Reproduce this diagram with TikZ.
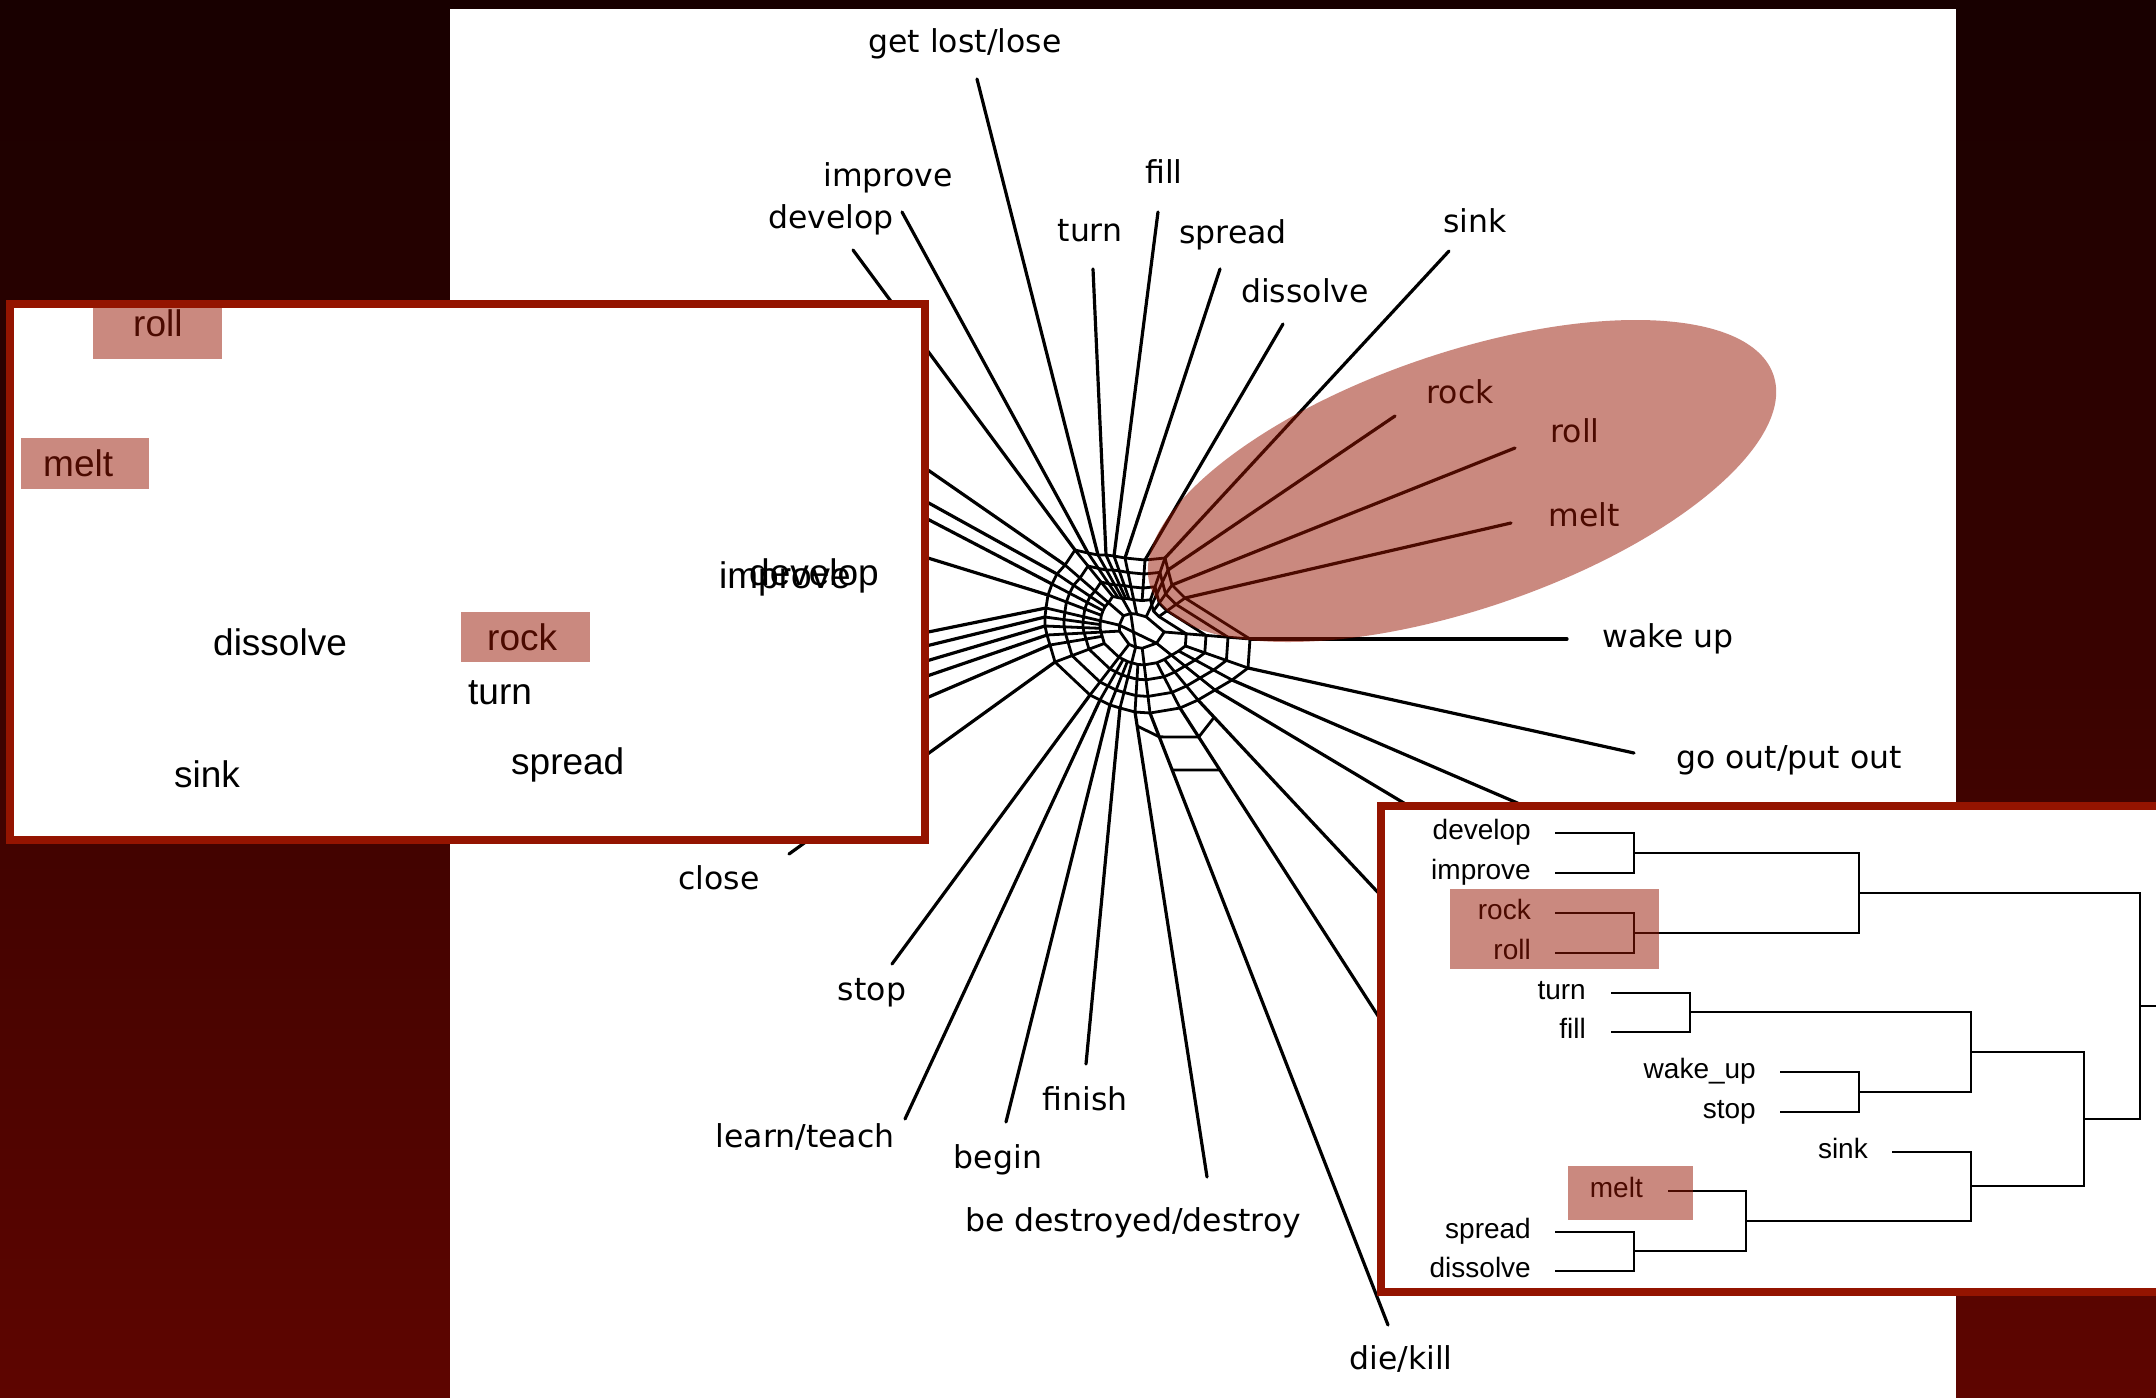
\documentclass[tikz,border=0pt]{standalone}
\usepackage{fontspec}
\setmainfont{DejaVu Sans}
\newfontfamily\arialf{Liberation Sans}
\usetikzlibrary{calc}
\definecolor{bgtop}{RGB}{24,0,0}
\definecolor{bgbot}{RGB}{94,5,0}
\definecolor{framered}{RGB}{148,20,0}
\definecolor{hlred}{RGB}{150,20,0}
\tikzset{
  netlabel/.style={font=\fontsize{31.5}{38}\selectfont, inner sep=0pt, anchor=base},
  inslabel/.style={font=\arialf\fontsize{37}{42}\selectfont, inner sep=0pt, anchor=base west},
  dentext/.style={font=\arialf\fontsize{28}{32}\selectfont, inner sep=0pt, anchor=base east},
  pend/.style={line width=3.2pt, line cap=round},
  webline/.style={line width=2.8pt, line join=round},
  dl/.style={line width=2pt},
  hlbox/.style={fill=hlred, fill opacity=0.5},
  insetframe/.style={draw=framered, line width=8.5pt, fill=white},
}
\begin{document}
\begin{tikzpicture}[x=1pt,y=-1pt]
\useasboundingbox (0,0) rectangle (2156,1398);
\clip (0,0) rectangle (2156,1398);
% background
\shade[top color=bgtop,bottom color=bgbot] (0,0) rectangle (2156,1398);
\fill[white] (450,9) rectangle (1956,1398);

% ---------------- network ----------------
\coordinate (H) at (1140,630);
\foreach \n/\px/\py/\qx/\qy in {
 wakeup/1567/639/1250/639, goout/1634/753/1248/668, hA/1580/830/1232/680,
 hB/1449/830/1215/690, hC/1400/916/1198/700, hD/1400/1050/1180/708,
 die/1388/1325/1150/713, destroy/1207/1177/1135/712, finish/1086/1064/1120/708,
 begin/1006/1122/1110/705, learn/905/1119/1100/700, stop/892/964/1090/695,
 close/789/854/1055/662, lA/889/714/1050/645, lB/889/689/1047/635,
 lC/889/672/1045/626, lD/889/655/1045/617, lE/889/640/1046/608,
 lF/889/546/1048/595, lG/889/499/1052/584, lH/889/481/1057/574,
 lI/889/443/1065/565, develop/853/250/1075/550, improve/902/212/1088/553,
 getlost/977/79/1098/555, turn/1093/269/1106/555, fill/1158/212/1114/556,
 spread/1220/269/1125/558, dissolve/1283/324/1145/560, sink/1449/251/1165/558,
 rock/1395/416/1168/570, roll/1515/448/1172/585, melt/1511/523/1185/598}{
  \coordinate (p-\n) at (\px,\py);
  \coordinate (q-\n) at (\qx,\qy);
}
\foreach \n in {wakeup,goout,hA,hB,hC,hD,die,destroy,finish,begin,learn,stop,close,lA,lB,lC,lD,lE,lF,lG,lH,lI,develop,improve,getlost,turn,fill,spread,dissolve,sink,rock,roll,melt}{
  \draw[pend] (p-\n) -- (q-\n);
  \draw[webline] (q-\n) -- ($(H)!0.42!(q-\n)$);
}
\foreach \s in {1,0.8,0.6,0.42}{
  \draw[webline] ($(H)!\s!(q-wakeup)$)
    \foreach \n in {goout,hA,hB,hC,hD,die,destroy,finish,begin,learn,stop,close,lA,lB,lC,lD,lE,lF,lG,lH,lI,develop,improve,getlost,turn,fill,spread,dissolve,sink,rock,roll,melt}{ -- ($(H)!\s!(q-\n)$) } -- cycle;
}
% inner cells
\foreach \n in {wakeup,hB,die,finish,stop,lB,lE,lI,getlost,spread,rock}{
  \draw[webline] ($(H)!0.42!(q-\n)$) -- ($(H)!0.22!(q-\n)$);
}
\draw[webline] ($(H)!0.22!(q-wakeup)$)
  \foreach \n in {hB,die,finish,stop,lB,lE,lI,getlost,spread,rock}{ -- ($(H)!0.22!(q-\n)$) } -- cycle;
\draw[webline] ($(H)!0.22!(q-lE)$) -- ($(H)!0.22!(q-hB)$);
\draw[webline] ($(H)!0.22!(q-getlost)$) -- ($(H)!0.22!(q-finish)$);
% lower-right cells between the die/kill and hidden pendant lines
\draw[webline] ($(q-die)!0.039!(p-die)$) -- ($(q-hD)!0.085!(p-hD)$);
\draw[webline] ($(q-die)!0.093!(p-die)$) -- ($(q-hD)!0.181!(p-hD)$);
\draw[webline] ($(q-destroy)!0.03!(p-destroy)$) -- ($(q-die)!0.039!(p-die)$);
\draw[webline] ($(q-hD)!0.085!(p-hD)$) -- ($(q-hC)!0.08!(p-hC)$);

% network labels
\node[netlabel] (n-getlost) at (965,52) {get lost/lose};
\node[netlabel] (n-improve) at (888,186) {improve};
\node[netlabel] (n-develop) at (831,228) {develop};
\node[netlabel] (n-fill) at (1164,183) {fill};
\node[netlabel] (n-turn) at (1090,241) {turn};
\node[netlabel] (n-spread) at (1233,243) {spread};
\node[netlabel] (n-sink) at (1475,232) {sink};
\node[netlabel] (n-dissolve) at (1305,302) {dissolve};
\node[netlabel] (n-rock) at (1460,403) {rock};
\node[netlabel] (n-roll) at (1575,442) {roll};
\node[netlabel] (n-melt) at (1584,526) {melt};
\node[netlabel] (n-wakeup) at (1668,647) {wake up};
\node[netlabel] (n-goout) at (1789,768) {go out/put out};
\node[netlabel] (n-close) at (719,889) {close};
\node[netlabel] (n-stop) at (872,1000) {stop};
\node[netlabel] (n-learn) at (805,1147) {learn/teach};
\node[netlabel] (n-finish) at (1085,1110) {finish};
\node[netlabel] (n-begin) at (998,1168) {begin};
\node[netlabel] (n-destroy) at (1133,1231) {be destroyed/destroy};
\node[netlabel] (n-die) at (1401,1369) {die/kill};

% highlight ellipse
\fill[hlred, fill opacity=0.5, rotate around={18.8:(1462,481)}] (1462,481) ellipse [x radius=329pt, y radius=128pt];

% ---------------- left inset ----------------
\draw[insetframe] (10,304) rectangle (925,840);
\node[inslabel] (l-roll) at (133,336) {roll};
\node[inslabel] (l-melt) at (43,476) {melt};
\node[inslabel] (l-improve) at (719,588) {improve};
\node[inslabel] (l-develop) at (749,585) {develop};
\node[inslabel] (l-dissolve) at (213,655) {dissolve};
\node[inslabel] (l-rock) at (487,650) {rock};
\node[inslabel] (l-turn) at (468,704) {turn};
\node[inslabel] (l-sink) at (174,787) {sink};
\node[inslabel] (l-spread) at (511,774) {spread};
\fill[hlbox] (93,308) rectangle (222,359);
\fill[hlbox] (21,438) rectangle (149,489);
\fill[hlbox] (461,612) rectangle (590,662);

% ---------------- right inset (dendrogram) ----------------
\draw[insetframe] (1381,806) rectangle (2175,1292);
\node[dentext] (d-develop) at (1531,839) {develop};
\node[dentext] (d-improve) at (1531,879) {improve};
\node[dentext] (d-rock) at (1531,919) {rock};
\node[dentext] (d-roll) at (1531,959) {roll};
\node[dentext] (d-turn) at (1586,999) {turn};
\node[dentext] (d-fill) at (1586,1038) {fill};
\node[dentext] (d-wake) at (1756,1078) {wake\_up};
\node[dentext] (d-stop) at (1756,1118) {stop};
\node[dentext] (d-sink) at (1868,1158) {sink};
\node[dentext] (d-melt) at (1643,1197) {melt};
\node[dentext] (d-spread) at (1531,1238) {spread};
\node[dentext] (d-dissolve) at (1531,1277) {dissolve};
\foreach \n/\x/\y in {develop/1555/833, improve/1555/873, rock/1555/913, roll/1555/953,
  turn/1611/993, fill/1611/1032, wake/1780/1072, stop/1780/1112, sink/1892/1152,
  melt/1668/1191, spread/1555/1232, dissolve/1555/1271}{
  \coordinate (s-\n) at (\x,\y);
}
\coordinate (j1) at (1634,853);
\coordinate (j2) at (1634,933);
\coordinate (j3) at (1859,893);
\coordinate (j4) at (1690,1012);
\coordinate (j5) at (1859,1092);
\coordinate (j6) at (1971,1052);
\coordinate (j7) at (1634,1251);
\coordinate (j8) at (1746,1221);
\coordinate (j9) at (1971,1186);
\coordinate (j10) at (2084,1119);
\coordinate (j11) at (2140,1006);
\draw[dl] (s-develop) -| (j1) |- (s-improve);
\draw[dl] (s-rock) -| (j2) |- (s-roll);
\draw[dl] (j1) -| (j3) |- (j2);
\draw[dl] (s-turn) -| (j4) |- (s-fill);
\draw[dl] (s-wake) -| (j5) |- (s-stop);
\draw[dl] (j4) -| (j6) |- (j5);
\draw[dl] (s-spread) -| (j7) |- (s-dissolve);
\draw[dl] (s-melt) -| (j8) |- (j7);
\draw[dl] (s-sink) -| (j9) |- (j8);
\draw[dl] (j6) -| (j10) |- (j9);
\draw[dl] (j3) -| (j11) |- (j10);
\draw[dl] (j11) -- ++(30,0);
\fill[hlbox] (1450,889) rectangle (1659,969);
\fill[hlbox] (1568,1166) rectangle (1693,1220);
\end{tikzpicture}
\end{document}
